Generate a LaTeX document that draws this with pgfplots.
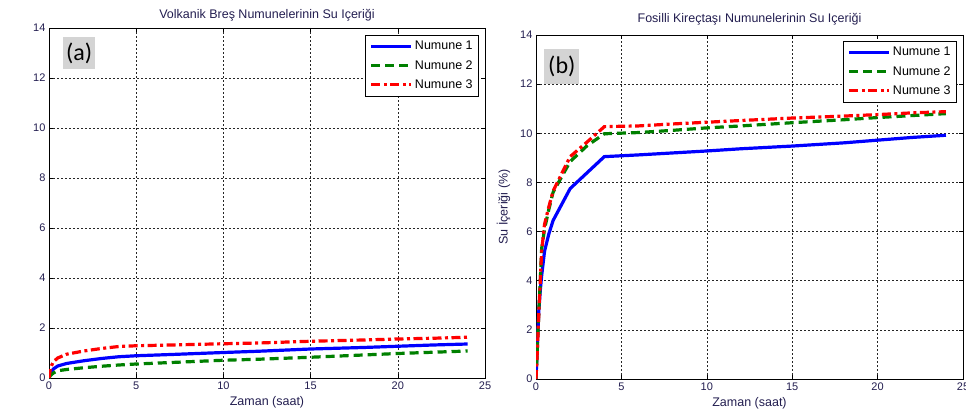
\documentclass[border=0pt]{standalone}
\usepackage{fontspec}
\setmainfont{Liberation Sans}
\newfontfamily\carlito{Carlito}
\usepackage{pgfplots}
\pgfplotsset{compat=1.18}

\definecolor{txt}{RGB}{35,30,80}
\definecolor{mblue}{RGB}{0,0,255}
\definecolor{mgreen}{RGB}{0,128,0}
\definecolor{mred}{RGB}{255,0,0}
\definecolor{tagbg}{RGB}{212,212,212}

\tikzset{
  tag/.style={fill=tagbg, inner sep=0pt, anchor=north west,
    font=\carlito\fontsize{24}{24}\selectfont},
}

\pgfplotsset{
  panel/.style={
    scale only axis,
    xmin=0, xmax=25, ymin=0, ymax=14,
    xtick={0,5,...,25}, ytick={0,2,...,14},
    grid=major,
    major grid style={black!85, line width=0.55pt, dash pattern=on 2pt off 2pt},
    tick align=inside,
    major tick length=4pt,
    axis line style={black, line width=0.7pt},
    tick style={black, line width=0.6pt},
    every tick label/.append style={font=\fontsize{11}{12}\selectfont, text=txt},
    /pgf/number format/assume math mode=true,
    xlabel={Zaman (saat)},
    label style={font=\fontsize{12.5}{14}\selectfont, text=txt},
    title style={font=\fontsize{12.5}{14}\selectfont, text=txt},
    legend cell align=left,
    legend style={draw=black, line width=0.7pt, fill=white,
      font=\fontsize{12.5}{14}\selectfont, anchor=north east,
      inner xsep=4pt, inner ysep=4pt, row sep=5pt},
    legend image code/.code={\draw[#1] (0pt,0pt) -- (40pt,0pt);},
  },
  s1/.style={mblue, line width=3.2pt},
  s2/.style={mgreen, line width=3.2pt, dash pattern=on 9pt off 5pt},
  s3/.style={mred, line width=3.2pt, dash pattern=on 9pt off 3.5pt on 3pt off 3.5pt},
}

\begin{document}
\begin{tikzpicture}
\useasboundingbox (0,0) rectangle (966pt,418pt);

% (a) volkanik bres
\begin{axis}[panel,
  at={(49pt,40pt)}, anchor=south west,
  width=436pt, height=350pt,
  title={Volkanik Breş Numunelerinin Su Içeriği},
  title style={yshift=-3pt},
  legend style={at={(1,1)}, xshift=-6pt, yshift=-7pt},
]
\addplot[s1] coordinates {(0,0) (0.083,0.2) (0.25,0.36) (0.5,0.48) (1,0.58) (2,0.69) (3,0.78) (4,0.85) (5,0.89) (7,0.94) (10,1.02) (12,1.07) (15,1.16) (18,1.22) (20,1.27) (22,1.32) (24,1.36)};
\addplot[s2] coordinates {(0,0) (0.083,0.1) (0.25,0.2) (0.5,0.29) (1,0.34) (2,0.41) (3,0.47) (4,0.52) (5,0.56) (7,0.62) (10,0.71) (12,0.75) (15,0.83) (18,0.92) (20,0.98) (22,1.03) (24,1.08)};
\addplot[s3] coordinates {(0,0) (0.083,0.4) (0.25,0.65) (0.5,0.8) (1,0.95) (2,1.08) (3,1.18) (4,1.26) (5,1.29) (7,1.32) (10,1.37) (12,1.4) (15,1.47) (18,1.52) (20,1.56) (22,1.59) (24,1.63)};
\legend{Numune 1, Numune 2, Numune 3}
\node[tag, minimum width=32pt, minimum height=32pt] at (rel axis cs:0.032,0.974) {(a)};
\end{axis}

% (b) fosilli kirectasi
\begin{axis}[panel,
  at={(536pt,39pt)}, anchor=south west,
  width=427pt, height=344pt,
  title={Fosilli Kireçtaşı Numunelerinin Su Içeriği},
  title style={yshift=0pt},
  ylabel={Su İçeriği (\%)},
  ylabel style={yshift=3pt},
  legend style={at={(1,1)}, xshift=-6pt, yshift=-6pt},
]
\addplot[s1] coordinates {(0,0) (0.083,1.5) (0.167,2.8) (0.25,3.6) (0.33,4.2) (0.5,5.2) (0.75,5.9) (1,6.45) (2,7.75) (3,8.4) (4,9.05) (6,9.12) (8,9.2) (10,9.28) (12,9.37) (15,9.48) (18,9.61) (20,9.72) (22,9.83) (24,9.92)};
\addplot[s2] coordinates {(0,0) (0.083,1.3) (0.167,2.8) (0.25,4.0) (0.33,5.3) (0.5,6.1) (0.75,6.9) (1,7.6) (2,8.85) (3,9.5) (4,9.98) (6,10.03) (8,10.12) (10,10.22) (12,10.3) (15,10.43) (18,10.55) (20,10.64) (22,10.72) (24,10.8)};
\addplot[s3] coordinates {(0,0) (0.083,1.2) (0.167,2.7) (0.25,4.0) (0.33,5.2) (0.5,6.3) (0.75,7.0) (1,7.65) (2,9.05) (3,9.65) (4,10.27) (6,10.3) (8,10.38) (10,10.45) (12,10.52) (15,10.62) (18,10.7) (20,10.76) (22,10.83) (24,10.88)};
\legend{Numune 1, Numune 2, Numune 3}
\node[tag, minimum width=35pt, minimum height=35pt] at (rel axis cs:0.019,0.959) {(b)};
\end{axis}
\end{tikzpicture}
\end{document}
